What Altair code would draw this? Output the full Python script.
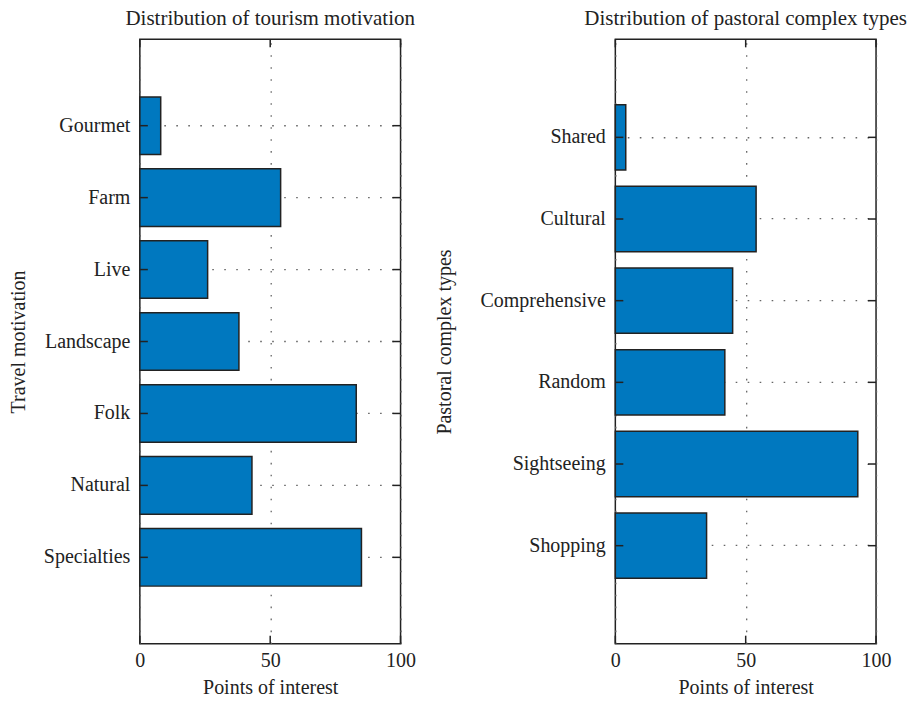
import altair as alt
import pandas as pd

# Travel motivation categories (bottom to top) and their points of interest
motivation = ["Specialties", "Natural", "Folk", "Landscape", "Live", "Farm", "Gourmet"]
motivation_counts = [85, 43, 83, 38, 26, 54, 8]

# Pastoral complex types (bottom to top) and their points of interest
complex_types = ["Shopping", "Sightseeing", "Random", "Comprehensive", "Cultural", "Shared"]
complex_counts = [35, 93, 42, 45, 54, 4]

x_ticks = [0, 50, 100]

FONT = "Liberation Serif"
INK = "#222222"
BAR = "#0078BF"
W, H = 261, 605
TICK = 8


def panel(cats, vals, title, ytitle, extent, title_pad):
    df = pd.DataFrame({"cat": cats, "count": vals})
    ticks_df = pd.DataFrame({"count": x_ticks})
    order = cats[::-1]

    y_scale = alt.Scale(paddingInner=0.2, paddingOuter=0.8)
    x_scale = alt.Scale(domain=[0, 100], nice=False)

    y_enc = alt.Y(
        "cat:N",
        sort=order,
        scale=y_scale,
        axis=alt.Axis(
            title=ytitle,
            grid=True,
            ticks=False,
            domain=False,
            labelPadding=10,
            minExtent=extent,
            maxExtent=extent,
            titlePadding=title_pad,
        ),
    )
    x_enc = alt.X(
        "count:Q",
        scale=x_scale,
        axis=alt.Axis(
            title="Points of interest",
            values=x_ticks,
            grid=True,
            ticks=False,
            domain=False,
            labelFlush=False,
            labelPadding=7,
            titlePadding=7,
        ),
    )

    bars = alt.Chart(df).mark_bar(
        color=BAR, stroke=INK, strokeWidth=1.5
    ).encode(x=x_enc, y=y_enc)

    # inward tick marks on the left and right frame edges
    left_ticks = alt.Chart(df).mark_rule(color=INK, strokeWidth=1.5).encode(
        y=alt.Y("cat:N", sort=order), x=alt.value(0), x2=alt.value(TICK)
    )
    right_ticks = alt.Chart(df).mark_rule(color=INK, strokeWidth=1.5).encode(
        y=alt.Y("cat:N", sort=order), x=alt.value(W - TICK), x2=alt.value(W)
    )
    # inward tick marks on the top and bottom frame edges
    top_ticks = alt.Chart(ticks_df).mark_rule(color=INK, strokeWidth=1.5).encode(
        x=alt.X("count:Q"), y=alt.value(0), y2=alt.value(TICK)
    )
    bottom_ticks = alt.Chart(ticks_df).mark_rule(color=INK, strokeWidth=1.5).encode(
        x=alt.X("count:Q"), y=alt.value(H - TICK), y2=alt.value(H)
    )

    return alt.layer(bars, left_ticks, right_ticks, top_ticks, bottom_ticks).properties(
        width=W,
        height=H,
        title=alt.TitleParams(
            title,
            font=FONT,
            fontSize=21,
            fontWeight="normal",
            color=INK,
            anchor="middle",
            offset=10,
        ),
    )


left = panel(motivation, motivation_counts, "Distribution of tourism motivation",
             "Travel motivation", 100, 11)
right = panel(complex_types, complex_counts, "Distribution of pastoral complex types",
              "Pastoral complex types", 148, 13)

chart = alt.hconcat(left, right, spacing=17).properties(
    padding={"left": 8, "top": 6, "right": 5, "bottom": 5}
).configure_view(
    stroke=INK, strokeWidth=1.5
).configure_axis(
    labelFont=FONT,
    titleFont=FONT,
    labelFontSize=20,
    titleFontSize=20,
    titleFontWeight="normal",
    labelColor=INK,
    titleColor=INK,
    gridColor="#666666",
    gridDash=[1.6, 10.4],
    gridWidth=1.3,
    gridOpacity=1,
)

chart.save("out.html", embed_options={"renderer": "svg", "actions": False})
